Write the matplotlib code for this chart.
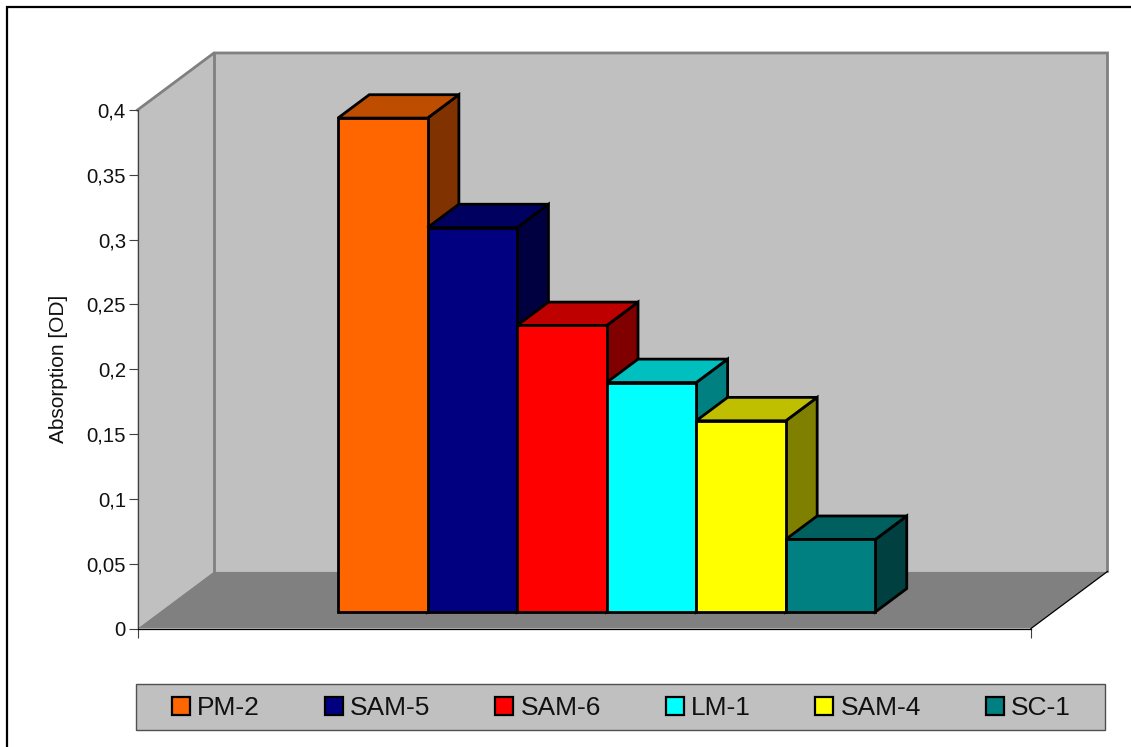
import numpy as np
import matplotlib.pyplot as plt
from matplotlib.lines import Line2D
from matplotlib.patches import Patch, Polygon, Rectangle
from matplotlib.colors import to_rgb

plt.rcParams['font.family'] = ['Liberation Sans', 'DejaVu Sans']

W = 1131
H = 747

samples = ['PM-2', 'SAM-5', 'SAM-6', 'LM-1', 'SAM-4', 'SC-1']
absorption = [0.381, 0.2965, 0.221, 0.177, 0.1475, 0.056]
colors = ['#FF6600', '#000080', '#FF0000', '#00FFFF', '#FFFF00', '#008080']
yticks = [0, 0.05, 0.1, 0.15, 0.2, 0.25, 0.3, 0.35, 0.4]
ylabels = ['0', '0,05', '0,1', '0,15', '0,2', '0,25', '0,3', '0,35', '0,4']

# x runs in bar widths, depth is how far the floor recedes in data units
XMAX = 9.975
YMAX = 0.4
DEPTH_X = 0.854
DEPTH_Y = 0.044
BAR_START = 1.99
BAR_FRONT = 0.29
BAR_BACK = 0.70


def shade(color, k):
  return tuple(c * k for c in to_rgb(color))


def depth(x, y, t):
  return (x + DEPTH_X * t, y + DEPTH_Y * t)


fig = plt.figure(figsize=(W / 100, H / 100), dpi=100, facecolor='white')
ax = fig.add_axes([137.5 / W, (H - 628.5) / H, 893.5 / W, 518.5 / H])
ax.set_xlim(0, XMAX)
ax.set_ylim(0, YMAX)
ax.patch.set_visible(False)

# walls and floor
wall = '#C0C0C0'
floor = '#808080'
ax.add_patch(Polygon([(0, 0), depth(0, 0, 1), depth(0, YMAX, 1), (0, YMAX)],
                     fc=wall, ec='none', clip_on=False, zorder=1))
ax.add_patch(Polygon([depth(0, 0, 1), depth(XMAX, 0, 1), depth(XMAX, YMAX, 1), depth(0, YMAX, 1)],
                     fc=wall, ec='none', clip_on=False, zorder=1))
ax.add_patch(Polygon([(0, 0), (XMAX, 0), depth(XMAX, 0, 1), depth(0, 0, 1)],
                     fc=floor, ec='none', clip_on=False, zorder=1.1))

# wall outline
for pts in ([(0, YMAX), depth(0, YMAX, 1), depth(XMAX, YMAX, 1), depth(XMAX, 0, 1)],
            [depth(0, YMAX, 1), depth(0, 0, 1)]):
  xs, ys = zip(*pts)
  ax.plot(xs, ys, color='#808080', lw=2, clip_on=False, zorder=1.2, solid_joinstyle='miter')
xs, ys = zip((XMAX, 0), depth(XMAX, 0, 1))
ax.plot(xs, ys, color='black', lw=0.9, clip_on=False, zorder=1.3)

# bars, left to right so that each one covers the side of the one before
for i in range(len(samples)):
  x0 = BAR_START + i
  x1 = x0 + 1
  v = absorption[i]
  z = 3 + i * 0.1
  line = dict(ec='black', lw=2, joinstyle='miter', clip_on=False, zorder=z)
  ax.add_patch(Polygon([depth(x1, 0, BAR_FRONT), depth(x1, 0, BAR_BACK), depth(x1, v, BAR_BACK), depth(x1, v, BAR_FRONT)],
                       fc=shade(colors[i], 0.5), **line))
  ax.add_patch(Polygon([depth(x0, v, BAR_FRONT), depth(x1, v, BAR_FRONT), depth(x1, v, BAR_BACK), depth(x0, v, BAR_BACK)],
                       fc=shade(colors[i], 0.75), **line))
  ax.add_patch(Polygon([depth(x0, 0, BAR_FRONT), depth(x1, 0, BAR_FRONT), depth(x1, v, BAR_FRONT), depth(x0, v, BAR_FRONT)],
                       fc=colors[i], **line))

ax.spines['top'].set_visible(False)
ax.spines['right'].set_visible(False)
ax.spines['left'].set_color('#404040')
ax.spines['left'].set_linewidth(0.9)
ax.spines['bottom'].set_color('black')
ax.spines['bottom'].set_linewidth(0.9)

ax.set_yticks(yticks)
ax.set_yticklabels(ylabels, fontsize=14.6, color='#111111')
ax.tick_params(axis='y', length=6.5, width=0.8, color='#404040', pad=1.8)
ax.set_xticks([0, XMAX])
ax.set_xticklabels(['', ''])
ax.tick_params(axis='x', length=6.5, width=0.8, color='#404040')
ax.set_ylabel('Absorption [OD]', fontsize=15, color='#111111', labelpad=0)
ax.yaxis.set_label_coords(-69 / 893.5, 0.5)

# legend box, with the entries laid out by the legend itself
fig.add_artist(Rectangle((136 / W, (H - 730) / H), 969 / W, 46 / H, transform=fig.transFigure,
                         fc='#C0C0C0', ec='#505050', lw=1))
handles = [Patch(fc=c, ec='black', lw=1.6) for c in colors]
fig.legend(handles, samples, loc='center', bbox_to_anchor=(621.5 / W, (H - 708) / H), ncol=6,
           frameon=False, fontsize=19, handlelength=0.68, handleheight=0.68,
           handletextpad=0.28, columnspacing=2.45, labelcolor='#111111')

# outer frame, open towards the right and bottom
fig.add_artist(Line2D([7 / W, 7 / W, 1], [0, (H - 7) / H, (H - 7) / H], color='black', lw=1.6,
                      transform=fig.transFigure, solid_joinstyle='miter'))

fig.savefig('out.png', dpi=100)
